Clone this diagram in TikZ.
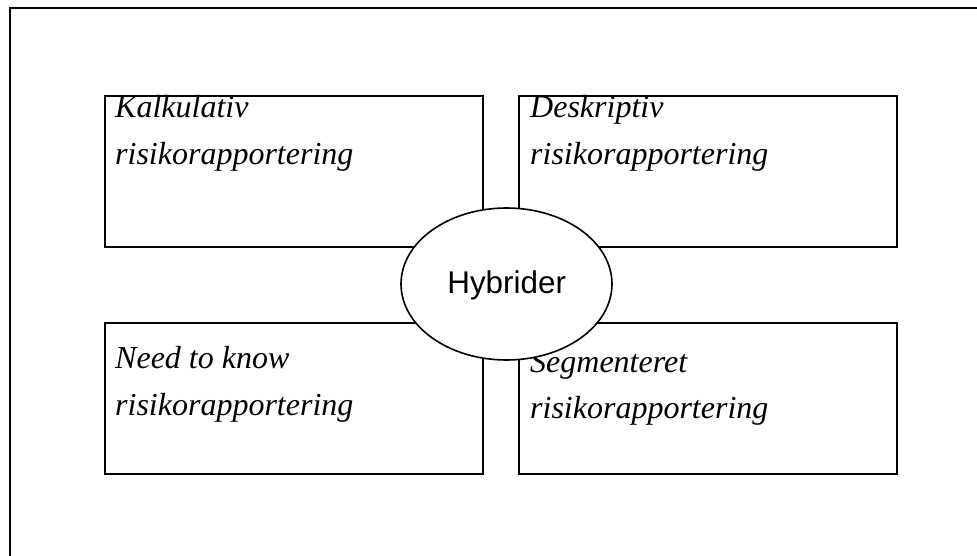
\documentclass[tikz,border=0pt]{standalone}
\usepackage{fontspec}
\setmainfont{Liberation Serif}
\newfontfamily\hybsans{Liberation Sans}
\usetikzlibrary{shapes.geometric}
\tikzset{
  frameline/.style={line width=2pt, line cap=rect},
  quadbox/.style={draw, line width=1.6pt, rectangle, inner sep=0pt, outer sep=0pt,
    minimum width=378pt, minimum height=151pt, anchor=north west},
  boxtext/.style={anchor=base west, inner sep=0pt, font=\fontsize{32}{38}\selectfont\itshape},
  hubshape/.style={draw, fill=white, line width=1.6pt, ellipse, inner sep=0pt, outer sep=0pt,
    minimum width=211pt, minimum height=152pt},
  hubtext/.style={anchor=base, inner sep=0pt, font=\hybsans\fontsize{31.4}{36}\selectfont}
}
\begin{document}
\begin{tikzpicture}[x=1pt,y=-1pt]
\useasboundingbox (0,0) rectangle (977,556);
% outer frame (cropped on right and bottom)
\coordinate (ftr) at (980,8);
\coordinate (ftl) at (10,8);
\coordinate (fbl) at (10,560);
\draw[frameline] (ftr) -- (ftl) -- (fbl);
% boxes
\node[quadbox] (tl) at (105,96) {};
\node[quadbox] (tr) at (519,96) {};
\node[quadbox] (bl) at (105,323) {};
\node[quadbox] (br) at (519,323) {};
% texts
\node[boxtext] (tl1) at (115,118) {Kalkulativ};
\node[boxtext] (tl2) at (115,165) {risikorapportering};
\node[boxtext] (tr1) at (530,118) {Deskriptiv};
\node[boxtext] (tr2) at (530,165) {risikorapportering};
\node[boxtext] (bl1) at (115,368) {Need to know};
\node[boxtext] (bl2) at (115,415) {risikorapportering};
\node[boxtext] (br1) at (530,372) {Segmenteret};
\node[boxtext] (br2) at (530,418) {risikorapportering};
% central ellipse
\node[hubshape] (hub) at (506.5,284) {};
\node[hubtext] (hubt) at (506.7,293) {Hybrider};
\end{tikzpicture}
\end{document}
